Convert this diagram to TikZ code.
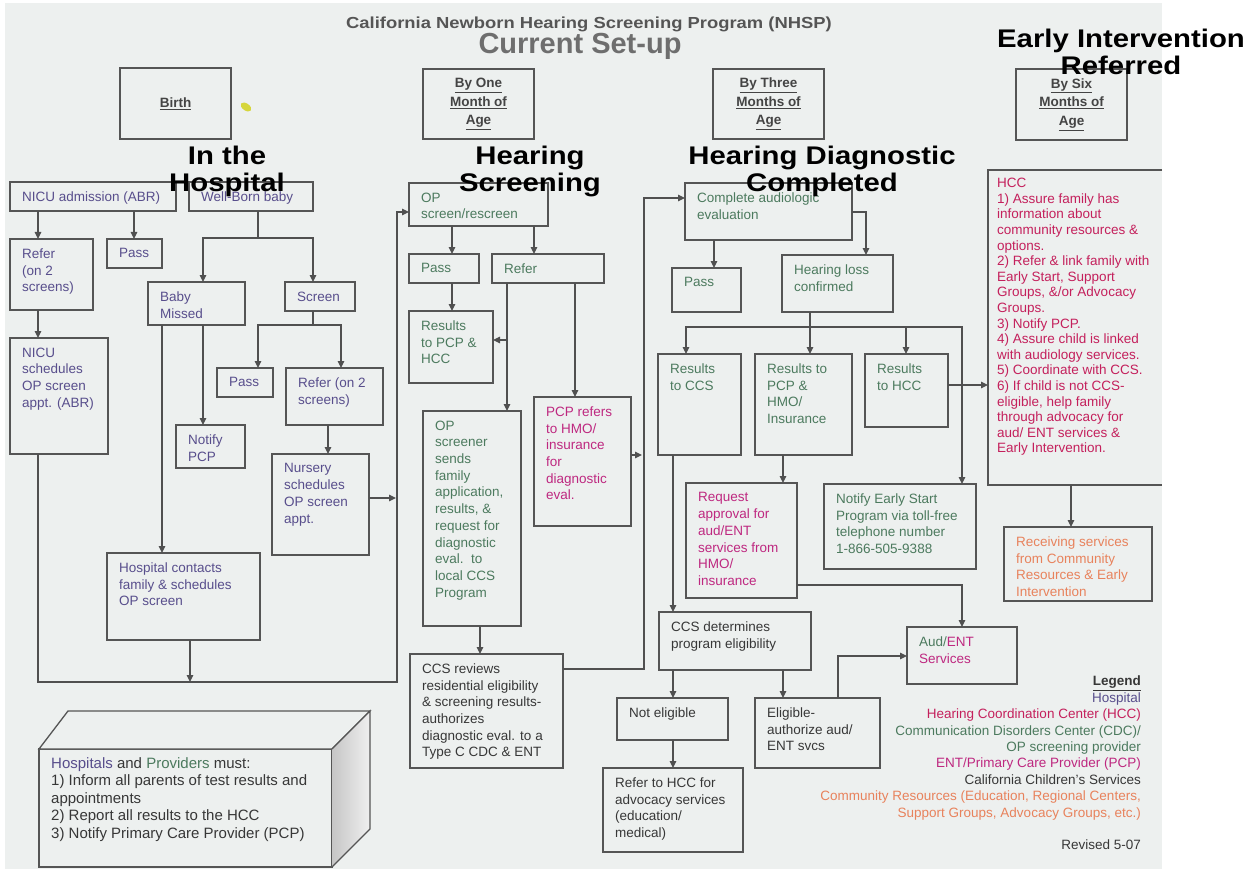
\documentclass[tikz,border=0pt]{standalone}
\usepackage{fontspec}
\setmainfont{Liberation Sans}
\newfontfamily\headfont[FakeStretch=1.15]{Liberation Sans}
\usetikzlibrary{arrows.meta}
\definecolor{bgc}{RGB}{237,240,239}
\definecolor{bordc}{RGB}{85,85,85}
\definecolor{linec}{RGB}{80,80,80}
\definecolor{hosp}{RGB}{88,78,140}
\definecolor{grn}{RGB}{76,122,94}
\definecolor{hccc}{RGB}{196,32,92}
\definecolor{pcpc}{RGB}{190,40,128}
\definecolor{ccsc}{RGB}{55,55,55}
\definecolor{comm}{RGB}{232,130,92}
\definecolor{datec}{RGB}{68,68,68}
\definecolor{titlec}{RGB}{85,85,85}
\definecolor{curc}{RGB}{110,110,110}
\definecolor{blobc}{RGB}{214,214,60}
\tikzset{
  bx/.style={draw=bordc, line width=1.3pt, inner sep=0pt, outer sep=0pt, anchor=north west},
  tx/.style={inner sep=0pt, anchor=north west, align=left, font=\fontsize{13.5}{16.7}\selectfont},
  datetx/.style={inner sep=0pt, align=center, text=datec, font=\bfseries\fontsize{13.5}{18.5}\selectfont},
  ln/.style={draw=linec, line width=1.2pt},
  arr/.style={ln, -{Triangle[length=7pt,width=6.5pt]}},
  headtx/.style={inner sep=0pt, anchor=north, align=center, text=black, font=\headfont\bfseries\fontsize{25.5}{27}\selectfont}
}
\newcommand{\Bx}[7]{%
  \node[bx, minimum width={#4pt-#2pt}, minimum height={#5pt-#3pt}] (#1) at (#2,#3) {};
  \node[tx, text=#6] at ([xshift=12pt,yshift=-9.5pt]#1.north west) {#7};}
\newcommand{\Dt}[6]{%
  \node[bx, minimum width={#4pt-#2pt}, minimum height={#5pt-#3pt}] (#1) at (#2,#3) {};
  \node[datetx] at (#1.center) {#6};}
\begin{document}
\begin{tikzpicture}[x=1pt,y=-1pt]
\useasboundingbox (0,0) rectangle (1258,869);
\fill[white] (0,0) rectangle (1258,869);
\fill[bgc] (5,3) rectangle (1162,869);

% titles
\node[inner sep=0pt, anchor=base, text=titlec, font=\headfont\bfseries\fontsize{16}{18}\selectfont] (title) at (589,29) {California Newborn Hearing Screening Program (NHSP)};
\node[inner sep=0pt, anchor=base, text=curc, font=\bfseries\fontsize{29}{30}\selectfont] (cur) at (580,54) {Current Set-up};

% date boxes
\Dt{birth}{120}{68}{231}{139}{\underline{Birth}}
\Dt{onem}{423}{69}{534}{139}{\underline{By One}\\\underline{Month of}\\\underline{Age}}
\Dt{threem}{713}{69}{824}{139}{\underline{By Three}\\\underline{Months of}\\\underline{Age}}
\Dt{sixm}{1016}{69}{1127}{140}{\underline{By Six}\\\underline{Months of}\\\underline{Age}}
\fill[blobc] (246,107) ellipse [x radius=6, y radius=3.5, rotate=-35];

% hospital column
\Bx{nicu}{10}{182}{176}{211}{hosp}{NICU admission (ABR)}
\Bx{wellborn}{189}{182}{313}{211}{hosp}{Well-Born baby}
\Bx{referA}{10}{239}{93}{310}{hosp}{Refer\\(on 2\\screens)}
\Bx{passA}{107}{239}{162}{268}{hosp}{Pass}
\Bx{missed}{148}{282}{245}{325}{hosp}{Baby\\Missed}
\Bx{screen}{285}{282}{355}{311}{hosp}{Screen}
\Bx{nicusched}{10}{338}{108}{454}{hosp}{NICU\\schedules\\OP screen\\appt. (ABR)}
\Bx{passB}{217}{368}{273}{397}{hosp}{Pass}
\Bx{referB}{286}{368}{383}{425}{hosp}{Refer (on 2\\screens)}
\Bx{notify}{176}{425}{245}{468}{hosp}{Notify\\PCP}
\Bx{nursery}{272}{454}{369}{555}{hosp}{Nursery\\schedules\\OP screen\\appt.}
\Bx{hospc}{107}{553}{260}{640}{hosp}{Hospital contacts\\family \& schedules\\OP screen}

% hearing screening column
\Bx{opscreen}{409}{183}{548}{226}{grn}{OP\\screen/rescreen}
\Bx{passC}{409}{254}{479}{283}{grn}{Pass}
\Bx{referC}{492}{254}{604}{283}{grn}{Refer}
\Bx{resA}{409}{311}{493}{383}{grn}{Results\\to PCP \&\\HCC}
\Bx{opsend}{423}{411}{521}{626}{grn}{OP\\screener\\sends\\family\\application,\\results, \&\\request for\\diagnostic\\eval.\ \ to\\local CCS\\Program}
\Bx{pcpref}{534}{397}{631}{526}{pcpc}{PCP refers\\to HMO/\\insurance\\for\\diagnostic\\eval.}
\Bx{ccsrev}{410}{654}{563}{768}{ccsc}{CCS reviews\\residential eligibility\\\& screening results-\\authorizes\\diagnostic eval. to a\\Type C CDC \& ENT}

% diagnostic column
\Bx{complete}{685}{183}{852}{240}{grn}{Complete audiologic\\evaluation}
\Bx{passD}{672}{268}{741}{312}{grn}{Pass}
\Bx{hloss}{782}{255}{893}{312}{grn}{Hearing loss\\confirmed}
\Bx{rccs}{658}{354}{741}{455}{grn}{Results\\to CCS}
\Bx{rpcp}{755}{354}{852}{455}{grn}{Results to\\PCP \&\\HMO/\\Insurance}
\Bx{rhcc}{865}{354}{948}{427}{grn}{Results\\to HCC}
\Bx{reqapp}{686}{483}{797}{598}{pcpc}{Request\\approval for\\aud/ENT\\services from\\HMO/\\insurance}
\Bx{nes}{824}{484}{976}{569}{grn}{Notify Early Start\\Program via toll-free\\telephone number\\1-866-505-9388}
\Bx{ccsdet}{659}{612}{811}{670}{ccsc}{CCS determines\\program eligibility}
\Bx{noteli}{617}{698}{728}{740}{ccsc}{Not eligible}
\Bx{eligible}{755}{698}{880}{768}{ccsc}{Eligible-\\authorize aud/\\ENT svcs}
\Bx{refhcc}{603}{768}{743}{852}{ccsc}{Refer to HCC for\\advocacy services\\(education/\\medical)}
\Bx{audent}{907}{627}{1017}{684}{pcpc}{\textcolor{grn}{Aud/}ENT\\Services}

% early intervention column
\node[bx, draw=none, minimum width=174pt, minimum height=315pt] (hcc) at (988,170) {};
\draw[draw=bordc, line width=1.3pt] (hcc.north east) -- (hcc.north west) -- (hcc.south west) -- (hcc.south east);
\node[tx, text=hccc, font=\fontsize{13.5}{15.6}\selectfont] at ([xshift=9pt,yshift=-8pt]hcc.north west) {HCC\\1) Assure family has\\information about\\community resources \&\\options.\\2) Refer \& link family with\\Early Start, Support\\Groups, \&/or Advocacy\\Groups.\\3) Notify PCP.\\4) Assure child is linked\\with audiology services.\\5) Coordinate with CCS.\\6) If child is not CCS-\\eligible, help family\\through advocacy for\\aud/ ENT services \&\\Early Intervention.};
\Bx{recv}{1004}{527}{1152}{601}{comm}{Receiving services\\from Community\\Resources \& Early\\Intervention}

% 3D note box
\node[bx, minimum width=293pt, minimum height=118pt] (note) at (39,749) {};
\filldraw[fill=bgc, draw=bordc, line width=1.3pt] (note.north west) -- (68,711) -- (370,711) -- (note.north east) -- cycle;
\shade[left color=gray!45, right color=gray!12] (note.north east) -- (370,711) -- (370,829) -- (note.south east) -- cycle;
\draw[draw=bordc, line width=1.3pt] (note.north east) -- (370,711) -- (370,829) -- (note.south east);
\node[tx, text=ccsc, font=\fontsize{15}{17.4}\selectfont] at ([xshift=12pt,yshift=-8.5pt]note.north west) {\textcolor{hosp}{Hospitals} and \textcolor{grn}{Providers} must:\\1) Inform all parents of test results and\\appointments\\2) Report all results to the HCC\\3) Notify Primary Care Provider (PCP)};

% legend
\node[inner sep=0pt, anchor=north east, align=right, font=\fontsize{13.5}{16.4}\selectfont] (legend) at (1141,676) {\textcolor{ccsc}{\bfseries\underline{Legend}}\\\textcolor{hosp}{Hospital}\\\textcolor{hccc}{Hearing Coordination Center (HCC)}\\\textcolor{grn}{Communication Disorders Center (CDC)/}\\\textcolor{grn}{OP screening provider}\\\textcolor{pcpc}{ENT/Primary Care Provider (PCP)}\\\textcolor{ccsc}{California Children's Services}\\\textcolor{comm}{Community Resources (Education, Regional Centers,}\\\textcolor{comm}{Support Groups, Advocacy Groups, etc.)}};
\node[inner sep=0pt, anchor=base east, text=ccsc, font=\fontsize{13.5}{16}\selectfont] (revised) at (1141,849) {Revised 5-07};

% connectors: hospital
\draw[arr] ([xshift=28pt]nicu.south west) -- ([xshift=28pt]referA.north west);
\draw[arr] ([xshift=124pt]nicu.south west) -- ([xshift=27pt]passA.north west);
\coordinate (j1) at ([xshift=69pt,yshift=-27pt]wellborn.south west);
\draw[ln] ([xshift=69pt]wellborn.south west) -- (j1);
\draw[arr] (j1) -| ([xshift=55pt]missed.north west);
\draw[arr] (j1) -| ([xshift=28pt]screen.north west);
\draw[arr] ([xshift=28pt]referA.south west) -- ([xshift=28pt]nicusched.north west);
\draw[arr] ([xshift=55pt]missed.south west) -- ([xshift=27pt]notify.north west);
\draw[arr] ([xshift=14pt]missed.south west) -- ([xshift=55pt]hospc.north west);
\coordinate (j2) at ([xshift=28pt,yshift=-14pt]screen.south west);
\draw[ln] ([xshift=28pt]screen.south west) -- (j2);
\draw[arr] (j2) -| ([xshift=41pt]passB.north west);
\draw[arr] (j2) -| ([xshift=55pt]referB.north west);
\draw[arr] ([xshift=42pt]referB.south west) -- ([xshift=56pt]nursery.north west);
\coordinate (busA) at (397,682);
\draw[arr] ([xshift=28pt]nicusched.south west) |- (busA) |- ([yshift=-29pt]opscreen.north west);
\draw[arr] ([xshift=83pt]hospc.south west) -- ++(0,42);
\draw[arr] ([yshift=-44pt]nursery.north east) -- ++(27,0);

% connectors: screening
\draw[arr] ([xshift=43pt]opscreen.south west) -- ([xshift=43pt]passC.north west);
\draw[arr] ([xshift=125pt]opscreen.south west) -- ([xshift=42pt]referC.north west);
\draw[arr] ([xshift=43pt]passC.south west) -- ([xshift=43pt]resA.north west);
\draw[arr] ([xshift=15pt]referC.south west) -- ([xshift=84pt]opsend.north west);
\draw[arr] ([yshift=-29pt]resA.north east) ++(14,0) -- ([yshift=-29pt]resA.north east);
\draw[arr] ([xshift=83pt]referC.south west) -- ([xshift=41pt]pcpref.north west);
\draw[arr] ([yshift=-58pt]pcpref.north east) -- ++(11,0);
\coordinate (busB) at (644,669);
\draw[arr] ([yshift=-15pt]ccsrev.north east) -- (busB) |- ([yshift=-15pt]complete.north west);
\draw[arr] ([xshift=57pt]opsend.south west) -- ([xshift=70pt]ccsrev.north west);

% connectors: diagnostic
\draw[arr] ([xshift=29pt]complete.south west) -- ([xshift=42pt]passD.north west);
\draw[arr] ([yshift=-29pt]complete.north east) -| ([xshift=84pt]hloss.north west);
\coordinate (j3) at ([xshift=28pt,yshift=-15pt]hloss.south west);
\draw[ln] ([xshift=28pt]hloss.south west) -- (j3);
\draw[arr] (j3) -| ([xshift=28pt]rccs.north west);
\draw[arr] (j3) -- ([xshift=55pt]rpcp.north west);
\draw[arr] (j3) -| ([xshift=41pt]rhcc.north west);
\draw[arr] (j3) -| ([xshift=138pt]nes.north west);
\draw[arr] ([yshift=-31pt]rhcc.north east) -- ++(40,0);
\draw[arr] ([xshift=15pt]rccs.south west) -- ([xshift=14pt]ccsdet.north west);
\draw[arr] ([xshift=28pt]rpcp.south west) -- ([xshift=97pt]reqapp.north west);
\draw[arr] ([yshift=-102pt]reqapp.north east) -| ([xshift=55pt]audent.north west);
\draw[arr] ([xshift=14pt]ccsdet.south west) -- ([xshift=56pt]noteli.north west);
\draw[arr] ([xshift=124pt]ccsdet.south west) -- ([xshift=28pt]eligible.north west);
\draw[arr] ([xshift=56pt]noteli.south west) -- ([xshift=70pt]refhcc.north west);
\draw[arr] ([xshift=83pt]eligible.north west) |- ([yshift=-29pt]audent.north west);
\draw[arr] ([xshift=83pt]hcc.south west) -- ([xshift=67pt]recv.north west);

% section headings
\node[headtx] (h1) at (227,146) {In the\\Hospital};
\node[headtx] (h2) at (530,146) {Hearing\\Screening};
\node[headtx] (h3) at (822,146) {Hearing Diagnostic\\Completed};
\node[headtx] (h4) at (1121,29) {Early Intervention\\Referred};
\end{tikzpicture}
\end{document}
